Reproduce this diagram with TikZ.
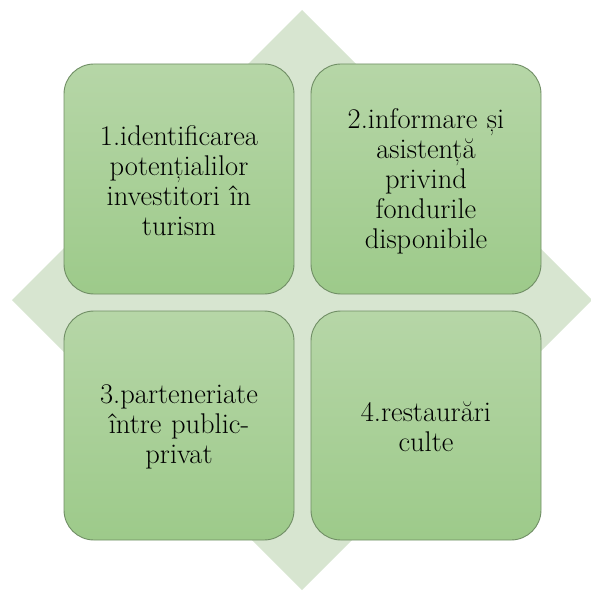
\documentclass[tikz,border=0pt]{standalone}
\definecolor{diam}{HTML}{D7E5D0}
\definecolor{btop}{HTML}{B6D6A7}
\definecolor{bbot}{HTML}{9DCA8A}
\definecolor{bline}{HTML}{708E65}
\begin{document}
\begin{tikzpicture}[x=1pt,y=-1pt,
  card/.style={draw=bline, line width=0.9pt, rounded corners=30pt,
    top color=btop, bottom color=bbot},
  cardtext/.style={align=center, font=\rmfamily\fontsize{28.5}{30}\selectfont, text width=215pt, inner sep=0pt}]
\useasboundingbox (0,0) rectangle (590,593);
\fill[diam] (302,10) -- (592,300) -- (302,590) -- (12,300) -- cycle;
\draw[card] (64,64) rectangle (294,294);
\draw[card] (311,64) rectangle (541,294);
\draw[card] (64,311) rectangle (294,540);
\draw[card] (311,311) rectangle (541,540);
\node[cardtext] (t1) at (179,181) {1.identificarea\\potențialilor\\investitori în\\turism};
\node[cardtext] (t2) at (426,181) {2.informare și\\asistență\\privind\\fondurile\\disponibile};
\node[cardtext] (t3) at (179,427) {3.parteneriate\\între public-\\privat};
\node[cardtext] (t4) at (426,427) {4.restaurări\\culte};
\end{tikzpicture}
\end{document}
